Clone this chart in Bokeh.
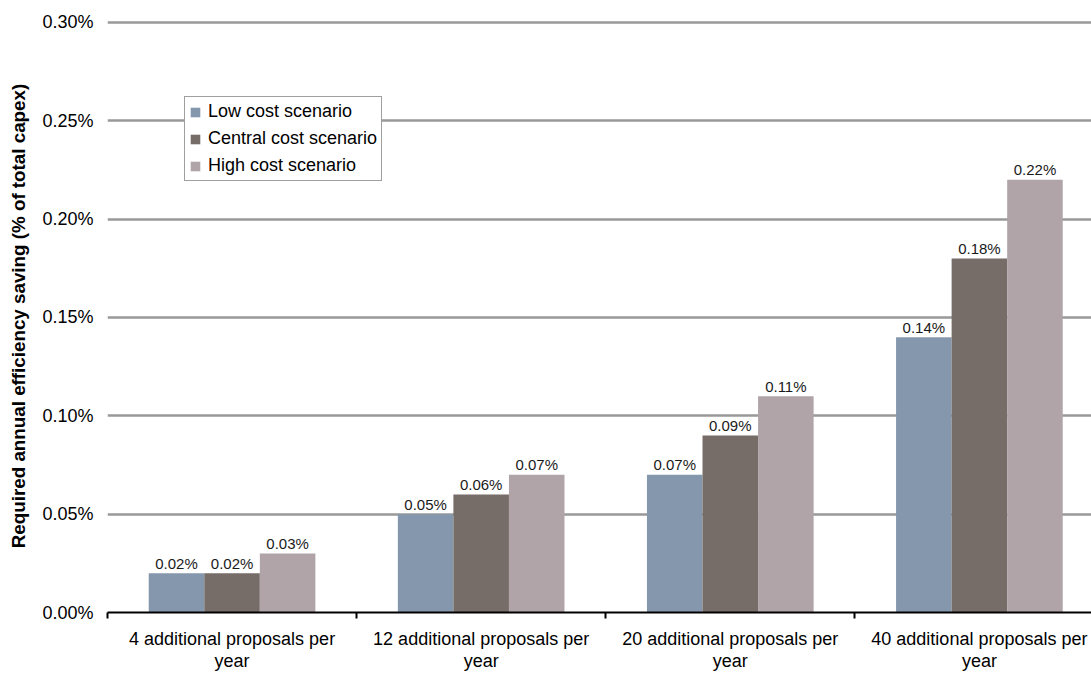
from bokeh.plotting import figure
from bokeh.models import (Range1d, FixedTicker, PrintfTickFormatter, Legend,
                          LegendItem, ColumnDataSource)
from bokeh.core.properties import value
from bokeh.embed import file_html
from bokeh.resources import INLINE

# Chart data (values are in percent of total capex)
categories = [
    "4 additional proposals per\nyear",
    "12 additional proposals per\nyear",
    "20 additional proposals per\nyear",
    "40 additional proposals per\nyear",
]
scenarios = ["Low cost scenario", "Central cost scenario", "High cost scenario"]
low_cost = [0.02, 0.05, 0.07, 0.14]
central_cost = [0.02, 0.06, 0.09, 0.18]
high_cost = [0.03, 0.07, 0.11, 0.22]
y_ticks = [0.00, 0.05, 0.10, 0.15, 0.20, 0.25, 0.30]

colors = ["#8497ad", "#766d68", "#b0a4a9"]
FONT = "Liberation Sans"
bar_w = 0.223

# a little headroom so the top grid line is not clipped
p = figure(width=1091, height=673, output_backend="svg", toolbar_location=None,
           x_range=Range1d(0, 3.95), y_range=Range1d(0, 0.3015),
           min_border_left=107, min_border_right=0, min_border_top=19,
           min_border_bottom=60)
p.outline_line_color = None
p.background_fill_color = "white"
p.border_fill_color = "white"

# Grid: horizontal lines only
p.xgrid.visible = False
p.ygrid.ticker = FixedTicker(ticks=y_ticks)
p.ygrid.grid_line_color = "#999999"
p.ygrid.grid_line_width = 2.5

# Y axis: percentage labels, no line or ticks
yax = p.yaxis[0]
yax.ticker = FixedTicker(ticks=y_ticks)
yax.formatter = PrintfTickFormatter(format="%.2f%%")
yax.axis_line_color = None
yax.major_tick_line_color = None
yax.minor_tick_line_color = None
yax.major_tick_out = 0
yax.major_tick_in = 0
yax.major_label_standoff = 14
yax.major_label_text_font = FONT
yax.major_label_text_font_size = "18px"
yax.major_label_text_color = "black"
yax.axis_label = "Required annual efficiency saving (% of total capex)"
yax.axis_label_text_font = FONT
yax.axis_label_text_font_size = "18.8px"
yax.axis_label_text_font_style = "bold"
yax.axis_label_text_color = "black"
yax.axis_label_standoff = 10

# X axis: group labels at centres, separator ticks between groups
centers = [i + 0.5 for i in range(len(categories))]
xax = p.xaxis[0]
xax.ticker = FixedTicker(ticks=centers, minor_ticks=list(range(len(categories) + 1)))
xax.major_label_overrides = {c: lab for c, lab in zip(centers, categories)}
xax.major_tick_line_color = None
xax.major_tick_out = 0
xax.major_tick_in = 0
xax.minor_tick_line_color = "black"
xax.minor_tick_line_width = 2
xax.minor_tick_out = 6
xax.minor_tick_in = 0
xax.axis_line_color = "black"
xax.axis_line_width = 2
xax.major_label_standoff = 10
xax.major_label_text_line_height = 1.1
xax.major_label_text_font = FONT
xax.major_label_text_font_size = "18px"
xax.major_label_text_color = "black"

series = [low_cost, central_cost, high_cost]
items = []
for k, (name, vals, color) in enumerate(zip(scenarios, series, colors)):
    xs = [c + (k - 1) * bar_w for c in centers]
    src = ColumnDataSource(data=dict(
        x=xs, top=vals, label=["%.2f%%" % v for v in vals]))
    r = p.vbar(x="x", top="top", width=bar_w, source=src,
               fill_color=color, line_color=None)
    p.text(x="x", y="top", text="label", source=src,
           text_align="center", text_baseline="alphabetic", y_offset=-10,
           text_font=value(FONT), text_font_size="15px", text_color="#1a1a1a")
    items.append(LegendItem(label=name, renderers=[r]))

legend = Legend(items=items, location=(77, 431))
legend.label_text_font = FONT
legend.label_text_font_size = "18px"
legend.label_text_color = "black"
legend.glyph_width = 12
legend.glyph_height = 12
legend.label_height = 20
legend.spacing = 6
legend.padding = 4
legend.margin = 0
legend.label_standoff = 7
legend.border_line_color = "#404040"
legend.border_line_width = 1
legend.background_fill_color = "white"
legend.background_fill_alpha = 1
p.add_layout(legend)

open("out.html", "w").write(file_html(p, INLINE))
